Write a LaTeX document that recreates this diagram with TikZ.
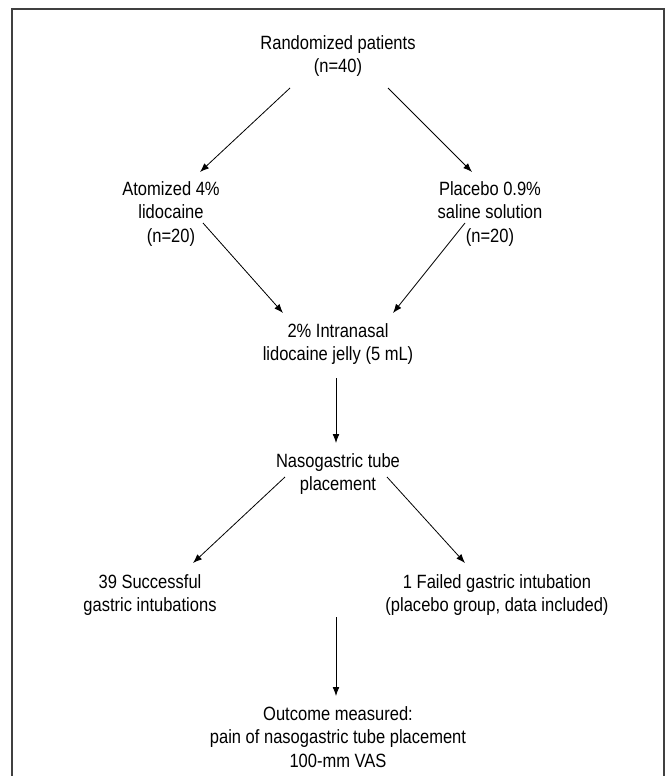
\documentclass[tikz,border=0pt]{standalone}
\usepackage{fontspec}
\setmainfont{Liberation Sans}[FakeStretch=0.86]
\usetikzlibrary{arrows.meta}
\tikzset{
  lbl/.style={align=center, inner sep=0pt, text=black, font=\fontsize{9.6}{11.75}\selectfont},
  arr/.style={-{Latex[length=4.5pt,width=3.4pt]}, line width=0.4pt},
}
\begin{document}
\begin{tikzpicture}[x=0.5pt,y=-0.5pt]
  \useasboundingbox (0,0) rectangle (670,776);
  % open frame round the chart
  \draw[line width=0.7pt,black!75] (12,776) -- (12,9) -- (664,9) -- (664,776);

  \node[lbl] (rand)  at (338,56)  {Randomized patients\\(n=40)};
  \node[lbl] (atom)  at (171,214) {Atomized 4\%\\lidocaine\\(n=20)};
  \node[lbl] (plac)  at (490,214) {Placebo 0.9\%\\saline solution\\(n=20)};
  \node[lbl] (jelly) at (338,344) {2\% Intranasal\\lidocaine jelly (5 mL)};
  \node[lbl] (naso)  at (338,474) {Nasogastric tube\\placement};
  \node[lbl] (succ)  at (150,595) {39 Successful\\gastric intubations};
  \node[lbl] (fail)  at (497,595) {1 Failed gastric intubation\\(placebo group, data included)};
  \node[lbl] (outc)  at (338,737) {Outcome measured:\\pain of nasogastric tube placement\\100-mm VAS};
  \coordinate (join) at (336,617);

  % arrows
  \draw[arr] ([shift={(-48,32)}]rand.center) -- ([shift={(29,-42)}]atom.center);
  \draw[arr] ([shift={(50,32)}]rand.center) -- ([shift={(-18,-42)}]plac.center);
  \draw[arr] ([shift={(32,9)}]atom.center) -- ([shift={(-55,-31)}]jelly.center);
  \draw[arr] ([shift={(-25,9)}]plac.center) -- ([shift={(55,-31)}]jelly.center);
  \draw[arr] ([shift={(-2,34)}]jelly.center) -- ([shift={(-2,-31)}]naso.center);
  \draw[arr] ([shift={(-53,3)}]naso.center) -- ([shift={(43,-32)}]succ.center);
  \draw[arr] ([shift={(49,3)}]naso.center) -- ([shift={(-32,-32)}]fail.center);
  \draw[arr] (join) -- ([shift={(-2,-41)}]outc.center);
\end{tikzpicture}
\end{document}
